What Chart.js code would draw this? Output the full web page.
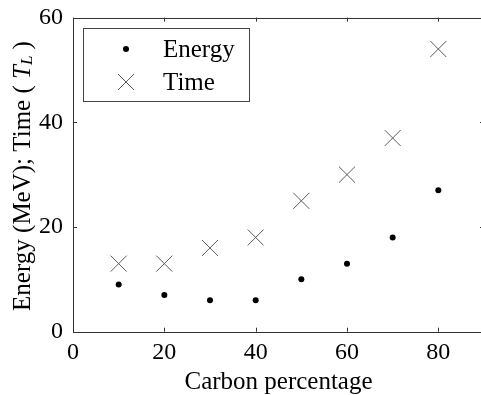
<!DOCTYPE html>
<html>
<head>
<meta charset="utf-8">
<script src="https://cdn.jsdelivr.net/npm/chart.js@4.4.1/dist/chart.umd.min.js"></script>
<style>
  html, body { margin: 0; padding: 0; background: #fff; overflow: hidden; }
</style>
</head>
<body>
<canvas id="chart" width="490" height="395"></canvas>
<script>
// Données
const carbone = [10, 20, 30, 40, 50, 60, 70, 80];
const energie = [9, 7, 6, 6, 10, 13, 18, 27];
const temps = [13, 13, 16, 18, 25, 30, 37, 54];
const xTicks = [0, 20, 40, 60, 80];
const yTicks = [0, 20, 40, 60];

const serif = '"Liberation Serif", "Times New Roman", serif';

// Cadre + graduations vers l'intérieur (style Matlab)
const cadre = {
  id: 'cadre',
  afterDraw(chart) {
    const { ctx, chartArea: a, scales } = chart;
    ctx.save();
    ctx.strokeStyle = '#333';
    ctx.lineWidth = 1;
    ctx.strokeRect(Math.round(a.left) + 0.5, Math.round(a.top) + 0.5,
      Math.round(a.right - a.left), Math.round(a.bottom - a.top));
    ctx.beginPath();
    xTicks.forEach(v => {
      const px = Math.round(scales.x.getPixelForValue(v)) + 0.5;
      ctx.moveTo(px, a.bottom); ctx.lineTo(px, a.bottom - 4);
      ctx.moveTo(px, a.top); ctx.lineTo(px, a.top + 4);
    });
    yTicks.forEach(v => {
      const py = Math.round(scales.y.getPixelForValue(v)) + 0.5;
      ctx.moveTo(a.left, py); ctx.lineTo(a.left + 4, py);
      ctx.moveTo(a.right, py); ctx.lineTo(a.right - 4, py);
    });
    ctx.stroke();
    ctx.restore();
  }
};

// Titre de l'axe y avec T_L en italique
const titreY = {
  id: 'titreY',
  afterDraw(chart) {
    const { ctx } = chart;
    const parts = [
      { t: 'Energy (MeV); Time ( ', f: '25px ' + serif, dy: 0 },
      { t: 'T', f: 'italic 25px ' + serif, dy: 0 },
      { t: 'L', f: 'italic 17px ' + serif, dy: 5 },
      { t: ' )', f: '25px ' + serif, dy: 0 }
    ];
    ctx.save();
    let total = 0;
    parts.forEach(p => { ctx.font = p.f; p.w = ctx.measureText(p.t).width; total += p.w; });
    ctx.translate(23, 176);
    ctx.rotate(-Math.PI / 2);
    ctx.fillStyle = '#000';
    ctx.textBaseline = 'middle';
    let x = -total / 2;
    parts.forEach(p => {
      ctx.font = p.f;
      ctx.fillText(p.t, x, p.dy);
      x += p.w;
    });
    ctx.restore();
  }
};

// Légende encadrée en haut à gauche
const legende = {
  id: 'legende',
  afterDraw(chart) {
    const { ctx } = chart;
    ctx.save();
    ctx.fillStyle = '#fff';
    ctx.fillRect(83, 28, 166, 73);
    ctx.strokeStyle = '#444';
    ctx.lineWidth = 1;
    ctx.strokeRect(83.5, 28.5, 166, 73);
    ctx.font = '25px ' + serif;
    ctx.textBaseline = 'middle';
    ctx.fillStyle = '#000';
    chart.data.datasets.forEach((ds, i) => {
      const y = 49 + i * 33;
      ctx.fillText(ds.label, 163, y + 1);
      if (ds.pointStyle === 'circle') {
        ctx.beginPath();
        ctx.arc(126, y, 3, 0, Math.PI * 2);
        ctx.fill();
      } else {
        ctx.beginPath();
        ctx.strokeStyle = ds.borderColor;
        ctx.moveTo(118, y - 8); ctx.lineTo(134, y + 8);
        ctx.moveTo(134, y - 8); ctx.lineTo(118, y + 8);
        ctx.stroke();
      }
    });
    ctx.restore();
  }
};

new Chart(document.getElementById('chart'), {
  type: 'scatter',
  data: {
    datasets: [
      {
        label: 'Energy',
        data: carbone.map((c, i) => ({ x: c, y: energie[i] })),
        pointStyle: 'circle',
        pointRadius: 3,
        backgroundColor: '#000',
        borderColor: '#000',
        borderWidth: 0
      },
      {
        label: 'Time',
        data: carbone.map((c, i) => ({ x: c, y: temps[i] })),
        pointStyle: 'crossRot',
        pointRadius: 11.3,
        borderColor: '#5a5a5a',
        borderWidth: 1
      }
    ]
  },
  options: {
    responsive: false,
    animation: false,
    events: [],
    layout: { autoPadding: false, padding: { top: 17.6, right: 6, left: 0, bottom: 0 } },
    plugins: { legend: { display: false }, tooltip: { enabled: false } },
    scales: {
      x: {
        type: 'linear',
        min: 0, max: 90,
        afterFit: s => { s.height = 63.3; s.paddingLeft = 0; s.paddingRight = 0; },
        afterBuildTicks: s => { s.ticks = xTicks.map(v => ({ value: v })); },
        grid: { display: false, drawTicks: false },
        border: { display: false },
        ticks: { color: '#000', font: { family: serif, size: 24 }, padding: 7 },
        title: {
          display: true,
          text: 'Carbon percentage',
          color: '#000',
          font: { family: serif, size: 25, lineHeight: 1 },
          padding: { top: 0, bottom: 0 }
        }
      },
      y: {
        type: 'linear',
        min: 0, max: 60,
        afterFit: s => { s.width = 73; s.paddingTop = 0; s.paddingBottom = 0; },
        afterBuildTicks: s => { s.ticks = yTicks.map(v => ({ value: v })); },
        grid: { display: false, drawTicks: false },
        border: { display: false },
        ticks: { color: '#000', font: { family: serif, size: 24 }, padding: 10 }
      }
    }
  },
  plugins: [cadre, titreY, legende]
});
</script>
</body>
</html>
